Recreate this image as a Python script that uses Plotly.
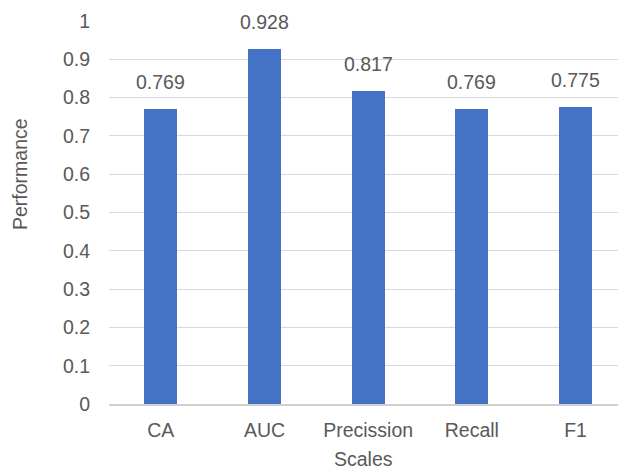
import plotly.graph_objects as go

# Classification performance by scale
scales = ["CA", "AUC", "Precission", "Recall", "F1"]
performance = [0.769, 0.928, 0.817, 0.769, 0.775]
y_ticks = [0, 0.1, 0.2, 0.3, 0.4, 0.5, 0.6, 0.7, 0.8, 0.9, 1]
y_tick_text = ["0", "0.1", "0.2", "0.3", "0.4", "0.5", "0.6", "0.7", "0.8", "0.9", "1"]

TEXT = "#595959"
FONT = "Arial, Liberation Sans, sans-serif"
SIZE = 19.5

x_pos = list(range(len(scales)))

fig = go.Figure(
    go.Bar(
        x=x_pos,
        y=performance,
        width=0.32,
        marker=dict(color="#4472C4", line=dict(width=0)),
        hoverinfo="x+y",
    )
)

# Value labels above each bar
for xi, v in zip(x_pos, performance):
    fig.add_annotation(
        x=xi, y=v, xref="x", yref="y", text=f"{v:.3f}",
        xanchor="center", yanchor="bottom", yshift=14, showarrow=False,
        font=dict(size=SIZE, color=TEXT, family=FONT),
    )

fig.update_layout(
    width=618,
    height=470,
    margin=dict(l=109, r=0, t=21, b=66),
    plot_bgcolor="white",
    paper_bgcolor="white",
    font=dict(family=FONT, color=TEXT, size=SIZE),
    showlegend=False,
    bargap=0,
)

fig.update_xaxes(
    tickmode="array",
    tickvals=x_pos,
    ticktext=scales,
    range=[-0.5, 4.41],
    showgrid=False,
    showline=True,
    linecolor="#D0D0D0",
    linewidth=1.5,
    ticks="",
    tickfont=dict(size=SIZE, color=TEXT),
    ticklabelstandoff=8,
    zeroline=False,
)

fig.update_yaxes(
    range=[0, 1],
    tickmode="array",
    tickvals=y_ticks,
    ticktext=y_tick_text,
    showgrid=True,
    gridcolor="#D9D9D9",
    gridwidth=1,
    showline=False,
    zeroline=False,
    ticks="",
    tickfont=dict(size=SIZE, color=TEXT),
    ticklabelstandoff=18,
)

# Axis titles
fig.add_annotation(
    text="Performance", xref="paper", yref="paper", x=0, y=0.449,
    xanchor="center", yanchor="bottom", textangle=-90, showarrow=False,
    xshift=-89, font=dict(size=SIZE, color=TEXT, family=FONT),
)
fig.add_annotation(
    text="Scales", xref="paper", yref="paper", x=0.5, y=0,
    xanchor="center", yanchor="middle", yshift=-55, showarrow=False,
    font=dict(size=SIZE, color=TEXT, family=FONT),
)

fig.write_html("out.html")
